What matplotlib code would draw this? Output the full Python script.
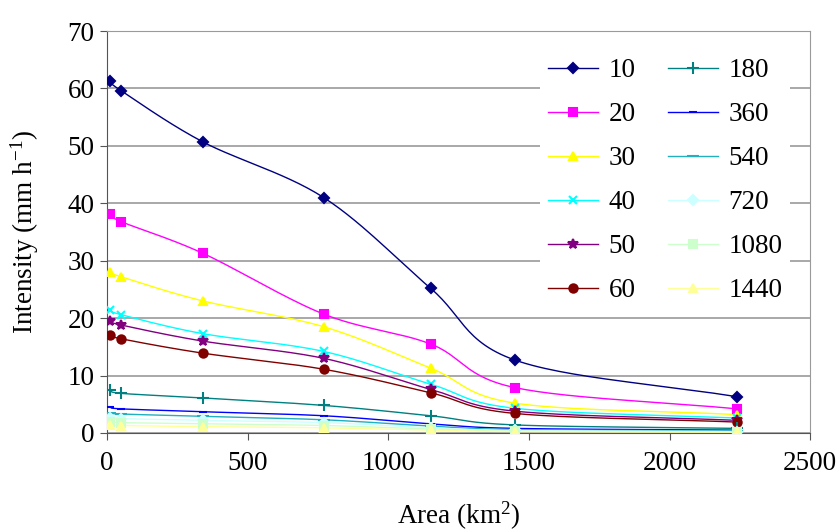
import matplotlib
matplotlib.use("Agg")
import matplotlib.pyplot as plt
import numpy as np

plt.rcParams['font.family'] = 'Liberation Serif'
plt.rcParams['mathtext.fontset'] = 'custom'
plt.rcParams['mathtext.rm'] = 'Liberation Serif'
plt.rcParams['mathtext.it'] = 'Liberation Serif:italic'

# catchment area (km2) and rainfall intensity for each duration (min)
area = [10, 50, 340, 770, 1150, 1450, 2240]

i10 = [61.3, 59.6, 50.7, 41.0, 25.2, 12.7, 6.3]
i20 = [38.2, 36.8, 31.3, 20.7, 15.5, 7.9, 4.2]
i30 = [28.0, 27.2, 23.0, 18.5, 11.3, 5.2, 3.2]
i40 = [21.5, 20.6, 17.3, 14.2, 8.5, 4.3, 2.6]
i50 = [19.5, 18.8, 16.0, 13.0, 7.6, 3.8, 2.2]
i60 = [17.1, 16.4, 13.9, 11.1, 7.0, 3.4, 1.9]
i180 = [7.5, 6.9, 6.1, 4.8, 3.0, 1.4, 0.8]
i360 = [4.5, 4.2, 3.7, 3.0, 1.6, 0.8, 0.5]
i540 = [3.5, 3.3, 2.9, 2.3, 1.2, 0.6, 0.35]
i720 = [2.6, 2.5, 2.2, 1.8, 0.9, 0.45, 0.25]
i1080 = [1.9, 1.8, 1.6, 1.3, 0.7, 0.35, 0.2]
i1440 = [1.4, 1.3, 1.1, 0.9, 0.5, 0.25, 0.15]

durations = ['10', '20', '30', '40', '50', '60', '180', '360', '540', '720', '1080', '1440']
series = [i10, i20, i30, i40, i50, i60, i180, i360, i540, i720, i1080, i1440]
colors = ['#000080', '#FF00FF', '#FFFF00', '#00FFFF', '#800080', '#800000',
          '#008080', '#0000FF', '#20B0C0', '#CCFFFF', '#CCFFCC', '#FFFF99']
markers = ['D', 's', '^', 'x', '*', 'o', '+', '_', '_', 'D', 's', '^']
msizes = [5, 6, 6, 6, 7, 6, 8, 6, 8, 5, 6, 6]


def smooth(x, y, n=30):
    # Catmull-Rom spline through the points, like the spreadsheet "smoothed line"
    x = np.asarray(x, float)
    y = np.asarray(y, float)
    px = np.concatenate([[2 * x[0] - x[1]], x, [2 * x[-1] - x[-2]]])
    py = np.concatenate([[2 * y[0] - y[1]], y, [2 * y[-1] - y[-2]]])
    xs, ys = [], []
    t = np.linspace(0, 1, n)
    for k in range(1, len(px) - 2):
        for p, out in ((px, xs), (py, ys)):
            p0, p1, p2, p3 = p[k - 1], p[k], p[k + 1], p[k + 2]
            out.append(0.5 * (2 * p1 + (-p0 + p2) * t
                              + (2 * p0 - 5 * p1 + 4 * p2 - p3) * t ** 2
                              + (-p0 + 3 * p1 - 3 * p2 + p3) * t ** 3))
    return np.concatenate(xs), np.concatenate(ys)


fig = plt.figure(figsize=(8.37, 5.31), dpi=100)
ax = fig.add_axes([0.128, 0.1846, 0.84, 0.757])

handles = []
for name, vals, c, m, ms in zip(durations, series, colors, markers, msizes):
    sx, sy = smooth(area, vals)
    ax.plot(sx, sy, color=c, lw=1.0, zorder=3)
    ax.plot(area, vals, ls='none', marker=m, color=c, ms=ms, mew=1.5, zorder=4)
    h, = ax.plot([], [], color=c, lw=1.0, marker=m, ms=ms, mew=1.5, label=name)
    handles.append(h)

ax.set_xlim(0, 2500)
ax.set_ylim(0, 70)
ax.set_xticks(np.arange(0, 2501, 500))
ax.set_yticks(np.arange(0, 71, 10))
ax.yaxis.grid(True, color='#9a9a9a', lw=1.2)
ax.set_axisbelow(True)
for s in ['top', 'right']:
    ax.spines[s].set_color('#9a9a9a')
ax.spines['left'].set_color('#555555')
ax.spines['bottom'].set_color('#555555')
ax.tick_params(labelsize=19.5, direction='out', length=5, color='#555555', pad=4)
ax.tick_params(axis='x', pad=8)

ax.set_xlabel(r'Area (km$^2$)', fontsize=19.5, labelpad=17)
ax.set_ylabel(r'Intensity (mm h$^{-1}$)', fontsize=19.5, labelpad=19)

leg = ax.legend(handles=handles, ncol=2, loc='upper left', bbox_to_anchor=(0.616, 0.952),
                frameon=True, fontsize=19.5, handlelength=1.85, handletextpad=0.37,
                columnspacing=1.2, labelspacing=0.7, borderpad=0.3, borderaxespad=0)
leg.get_frame().set_edgecolor('none')
leg.get_frame().set_facecolor('white')
leg.get_frame().set_alpha(1.0)

fig.savefig('out.png', dpi=100)
